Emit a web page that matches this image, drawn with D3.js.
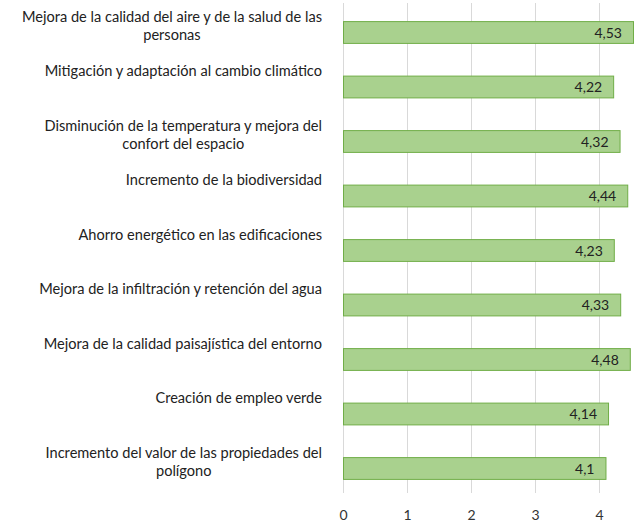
<!DOCTYPE html>
<html><head><meta charset="utf-8">
<script src="https://cdn.jsdelivr.net/npm/d3@7"></script>
<style>body{margin:0;background:#fff}svg{display:block}</style>
</head><body>
<script>
const categories = [
  "Mejora de la calidad del aire y de la salud de las\npersonas",
  "Mitigación y adaptación al cambio climático",
  "Disminución de la temperatura y mejora del\nconfort del espacio",
  "Incremento de la biodiversidad",
  "Ahorro energético en las edificaciones",
  "Mejora de la infiltración y retención del agua",
  "Mejora de la calidad paisajística del entorno",
  "Creación de empleo verde",
  "Incremento del valor de las propiedades del\npolígono"
];
const values = [4.53, 4.22, 4.32, 4.44, 4.23, 4.33, 4.48, 4.14, 4.1];
const valueLabels = ["4,53", "4,22", "4,32", "4,44", "4,23", "4,33", "4,48", "4,14", "4,1"];
const xTicks = [0, 1, 2, 3, 4];

const W = 640, H = 526;
const FONT = "Lato, 'Open Sans', sans-serif";
const svg = d3.select("body").append("svg").attr("width", W).attr("height", H);

const x = d3.scaleLinear().domain([0, 4.53]).range([343, 633]);
const y = d3.scaleBand().domain(d3.range(categories.length)).range([4.75, 495.25])
  .paddingInner(0.6).paddingOuter(0.3);

// gridlines
svg.append("g").selectAll("line").data(xTicks).join("line")
  .attr("x1", d => Math.round(x(d)) + 0.5).attr("x2", d => Math.round(x(d)) + 0.5)
  .attr("y1", 3).attr("y2", 493)
  .attr("stroke", "#d9d9d9").attr("stroke-width", 1);

// x axis tick labels
const xAxis = d3.axisBottom(x).tickValues(xTicks).tickSize(0).tickPadding(0).tickFormat(d => d);
const gx = svg.append("g").attr("transform", "translate(0,510)").call(xAxis);
gx.select(".domain").remove();
gx.selectAll("text").attr("font-family", FONT).attr("font-size", 14).attr("fill", "#333").attr("dy", "0.71em").attr("y", 0);

// bars
svg.append("g").selectAll("rect").data(values).join("rect")
  .attr("x", x(0) + 0.5)
  .attr("y", (d, i) => y(i) + 0.5)
  .attr("width", d => x(d) - x(0))
  .attr("height", y.bandwidth())
  .attr("fill", "#a9d18e").attr("stroke", "#70ad47").attr("stroke-width", 1);

// value labels
svg.append("g").selectAll("text").data(values).join("text")
  .attr("x", d => x(d) - 11)
  .attr("y", (d, i) => y(i) + y.bandwidth() / 2 + 1)
  .attr("dy", "0.35em")
  .attr("text-anchor", "end")
  .attr("font-family", FONT).attr("font-size", 14).attr("fill", "#222")
  .text((d, i) => valueLabels[i]);

// category labels: right-aligned block, lines centered within block
const labelRight = 322;
const lg = svg.append("g");
categories.forEach((c, i) => {
  const lines = c.split("\n");
  const top = y(i) - y.paddingInner() * y.step() / 2;
  const ts = lines.map((ln, j) => lg.append("text")
    .attr("font-family", FONT).attr("font-size", 14.6).attr("fill", "#222")
    .attr("y", top + 12 + j * 18).attr("dy", "0.35em")
    .attr("text-anchor", "middle").text(ln));
  const widths = ts.map(t => t.node().getComputedTextLength());
  const bw = d3.max(widths);
  ts.forEach(t => t.attr("x", labelRight - bw / 2));
});
</script>
</body></html>
